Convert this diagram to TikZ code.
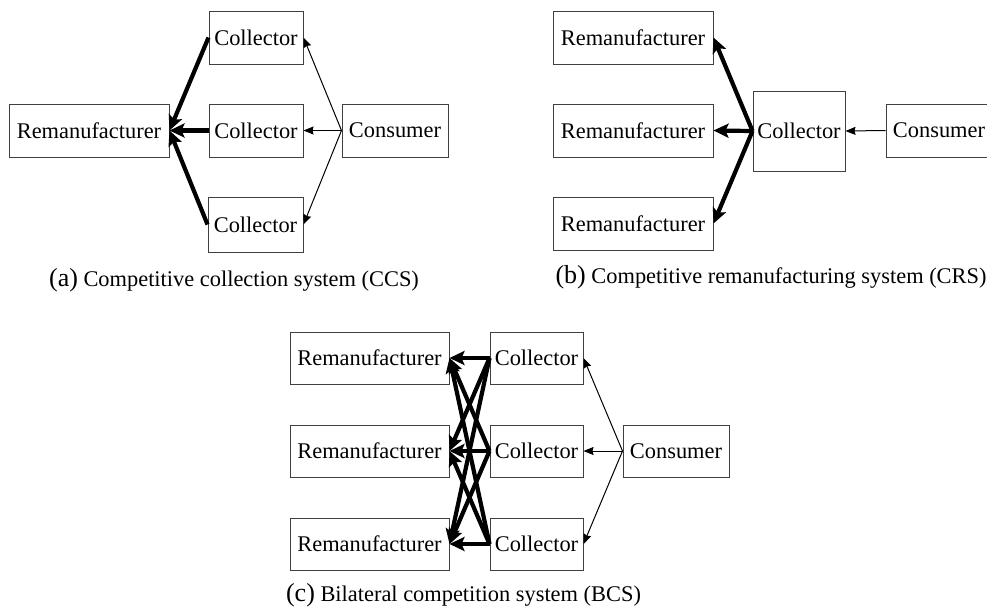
\documentclass[tikz,border=0pt]{standalone}
\usepackage{fontspec}
\setmainfont{Liberation Serif}
\usetikzlibrary{arrows.meta}
\begin{document}
\begin{tikzpicture}[x=1pt,y=-1pt,
  box/.style={draw=black!75,line width=1pt,inner sep=0pt,font=\fontsize{22.4}{26}\selectfont},
  rem/.style={box,minimum width=160pt,minimum height=53pt},
  col/.style={box,minimum width=94pt,minimum height=53pt},
  con/.style={box,minimum width=106pt,minimum height=53pt},
  bigarr/.style={line width=4.2pt,-{Stealth[length=15pt,width=14pt,inset=3pt]}},
  smallarr/.style={line width=1pt,-{Stealth[length=10pt,width=8pt,inset=1pt]}},
  captext/.style={inner sep=0pt,font=\fontsize{22.4}{26}\selectfont}
]
\useasboundingbox (0,0) rectangle (987,606);

% ---------- (a) ----------
\node[rem] (ra) at (89,130.5) {Remanufacturer};
\node[col] (ca1) at (256,37.5) {Collector};
\node[col] (ca2) at (256,130.5) {Collector};
\node[col,minimum width=95pt,minimum height=55pt] (ca3) at (255.5,224.5) {Collector};
\node[con] (na) at (395,130.5) {Consumer};
\draw[bigarr] (ca1.west) -- (ra.east);
\draw[bigarr] (ca2.west) -- (ra.east);
\draw[bigarr] (ca3.west) -- (ra.east);
\draw[smallarr] (na.west) -- (ca1.east);
\draw[smallarr] (na.west) -- (ca2.east);
\draw[smallarr] (na.west) -- (ca3.east);
\node[captext] (capa) at (234,280) {{\fontsize{26}{28}\selectfont(a)} Competitive collection system (CCS)};

% ---------- (b) ----------
\node[rem] (rb1) at (633,37.5) {Remanufacturer};
\node[rem] (rb2) at (633,130.5) {Remanufacturer};
\node[rem] (rb3) at (633,223.5) {Remanufacturer};
\node[box,minimum width=92pt,minimum height=80pt] (cb) at (799,131) {Collector};
\node[con] (nb) at (939,130.5) {Consumer};
\draw[bigarr] (cb.west) -- (rb1.east);
\draw[bigarr] (cb.west) -- (rb2.east);
\draw[bigarr] (cb.west) -- (rb3.east);
\draw[smallarr] (nb.west) -- (cb.east);
\node[captext] (capb) at (771,277) {{\fontsize{26}{28}\selectfont(b)} Competitive remanufacturing system (CRS)};

% ---------- (c) ----------
\node[rem,minimum width=159pt,minimum height=52pt] (rc1) at (369.5,358) {Remanufacturer};
\node[rem,minimum width=159pt,minimum height=52pt] (rc2) at (369.5,451) {Remanufacturer};
\node[rem,minimum width=159pt,minimum height=52pt] (rc3) at (369.5,544) {Remanufacturer};
\node[col,minimum width=93pt,minimum height=52pt] (cc1) at (536.5,358) {Collector};
\node[col,minimum width=93pt,minimum height=52pt] (cc2) at (536.5,451) {Collector};
\node[col,minimum width=93pt,minimum height=52pt] (cc3) at (536.5,544) {Collector};
\node[con,minimum height=52pt] (nc) at (676,451) {Consumer};
\foreach \c in {cc1,cc2,cc3}{
  \foreach \r in {rc1,rc2,rc3}{
    \draw[bigarr] (\c.west) -- (\r.east);
  }
}
\draw[smallarr] (nc.west) -- (cc1.east);
\draw[smallarr] (nc.west) -- (cc2.east);
\draw[smallarr] (nc.west) -- (cc3.east);
\node[captext] (capc) at (463.5,595) {{\fontsize{26}{28}\selectfont(c)} Bilateral competition system (BCS)};
\end{tikzpicture}
\end{document}
